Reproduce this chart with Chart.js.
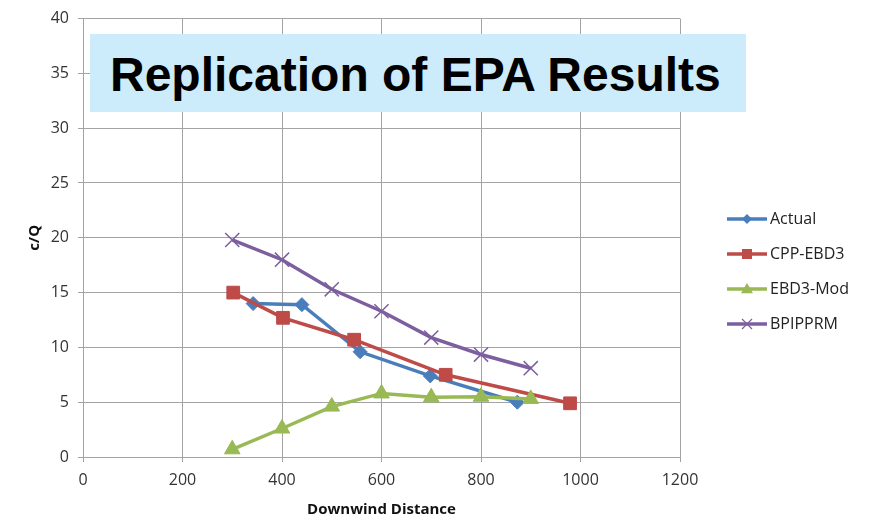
<!DOCTYPE html>
<html>
<head>
<meta charset="utf-8">
<script src="https://cdn.jsdelivr.net/npm/chart.js@4"></script>
<style>
  html, body { margin: 0; padding: 0; background: #fff; }
  #wrap { position: relative; width: 871px; height: 518px; }
  #title-box {
    position: absolute; left: 90px; top: 34px; width: 656px; height: 78px;
    background: #CCEBFB; box-sizing: border-box; padding-left: 20px;
    font: bold 48px "Liberation Sans", Arial, sans-serif; line-height: 81px;
    color: #000; white-space: nowrap;
  }
</style>
</head>
<body>
<div id="wrap">
  <canvas id="chart" width="871" height="518"></canvas>
  <div id="title-box">Replication of EPA Results</div>
</div>
<script>
(function () {
    'use strict';

    // Data
    const seriesNames = ['Actual', 'CPP-EBD3', 'EBD3-Mod', 'BPIPPRM'];
    const actualX = [342, 440, 557, 698, 873];
    const actualY = [14.0, 13.9, 9.6, 7.4, 5.0];
    const cppX = [302, 402, 545, 729, 979];
    const cppY = [15.0, 12.7, 10.7, 7.5, 4.9];
    const modX = [300, 400, 500, 600, 700, 800, 900];
    const modY = [0.7, 2.6, 4.6, 5.8, 5.45, 5.5, 5.3];
    const bpipX = [300, 400, 500, 600, 700, 800, 900];
    const bpipY = [19.8, 18.0, 15.3, 13.3, 10.9, 9.35, 8.1];
    const xTicks = [0, 200, 400, 600, 800, 1000, 1200];
    const yTicks = [0, 5, 10, 15, 20, 25, 30, 35, 40];

    const colors = ['#4A7EBB', '#BE4B48', '#98B954', '#7D5FA0'];
    const styles = ['rectRot', 'rect', 'triangle', 'crossRot'];
    const radii = [7, 9, 9, 10];

    const pts = (xs, ys) => xs.map((x, i) => ({ x, y: ys[i] }));
    const allData = [pts(actualX, actualY), pts(cppX, cppY), pts(modX, modY), pts(bpipX, bpipY)];

    const datasets = allData.map((data, i) => ({
        label: seriesNames[i],
        data,
        showLine: true,
        borderColor: colors[i],
        backgroundColor: colors[i],
        borderWidth: 3.5,
        pointStyle: styles[i],
        pointRadius: radii[i],
        pointBorderWidth: i === 3 ? 1.5 : 1,
        pointBackgroundColor: colors[i],
        pointBorderColor: colors[i],
        order: 4 - i
    }));

    function drawMarker(ctx, style, x, y, r, color) {
        ctx.save();
        ctx.fillStyle = color;
        ctx.strokeStyle = color;
        ctx.beginPath();
        if (style === 'rectRot') {
            ctx.moveTo(x, y - r); ctx.lineTo(x + r, y); ctx.lineTo(x, y + r); ctx.lineTo(x - r, y);
            ctx.closePath(); ctx.fill();
        } else if (style === 'rect') {
            ctx.rect(x - r, y - r, 2 * r, 2 * r); ctx.fill();
        } else if (style === 'triangle') {
            ctx.moveTo(x, y - r); ctx.lineTo(x + r, y + r * 0.7); ctx.lineTo(x - r, y + r * 0.7);
            ctx.closePath(); ctx.fill();
        } else {
            ctx.lineWidth = 1.2;
            ctx.moveTo(x - r, y - r); ctx.lineTo(x + r, y + r);
            ctx.moveTo(x + r, y - r); ctx.lineTo(x - r, y + r);
            ctx.stroke();
        }
        ctx.restore();
    }

    // Excel-style legend: line with marker in the middle
    const lineLegend = {
        id: 'lineLegend',
        afterDraw(chart) {
            const ctx = chart.ctx;
            const rows = [219, 254, 289, 324];
            const markerR = [5, 5, 6, 5];
            ctx.save();
            ctx.font = '16px "Open Sans", sans-serif';
            ctx.textBaseline = 'middle';
            ctx.fillStyle = '#222';
            seriesNames.forEach((name, i) => {
                const y = rows[i];
                ctx.strokeStyle = colors[i];
                ctx.lineWidth = 3.5;
                ctx.beginPath();
                ctx.moveTo(727, y); ctx.lineTo(767, y);
                ctx.stroke();
                drawMarker(ctx, styles[i], 747, y, markerR[i], colors[i]);
                ctx.fillText(name, 770, y);
            });
            ctx.restore();
        }
    };

    const gridColor = '#A3A3A3';
    const tickFont = { family: '"Open Sans", sans-serif', size: 16 };

    new Chart(document.getElementById('chart'), {
        type: 'scatter',
        data: { datasets },
        options: {
            responsive: false,
            animation: false,
            layout: { padding: { top: 18, right: 191, left: 0, bottom: 0 } },
            plugins: { legend: { display: false }, tooltip: { enabled: false } },
            scales: {
                x: {
                    type: 'linear',
                    min: xTicks[0],
                    max: xTicks[xTicks.length - 1],
                    afterBuildTicks: s => { s.ticks = xTicks.map(v => ({ value: v })); },
                    afterFit: s => { s.height = 61; },
                    grid: { color: gridColor, lineWidth: 1, tickLength: 5 },
                    border: { color: gridColor },
                    ticks: { font: tickFont, color: '#333', padding: 9, maxRotation: 0, callback: v => String(v) },
                    title: {
                        display: true, text: 'Downwind Distance', color: '#111',
                        font: { family: '"Open Sans", sans-serif', size: 15, weight: 'bold' },
                        padding: { top: 0, bottom: -1 }
                    }
                },
                y: {
                    type: 'linear',
                    min: yTicks[0],
                    max: yTicks[yTicks.length - 1],
                    afterBuildTicks: s => { s.ticks = yTicks.map(v => ({ value: v })); },
                    afterFit: s => { s.width = 83; },
                    grid: { color: gridColor, lineWidth: 1, tickLength: 5 },
                    border: { color: gridColor },
                    ticks: { font: tickFont, color: '#333', padding: 9, callback: v => String(v) },
                    title: {
                        display: true, text: 'c/Q', color: '#111',
                        font: { family: '"Open Sans", sans-serif', size: 15, weight: 'bold' },
                        padding: { top: 26, bottom: 0 }
                    }
                }
            }
        },
        plugins: [lineLegend]
    });
})();
</script>
</body>
</html>
